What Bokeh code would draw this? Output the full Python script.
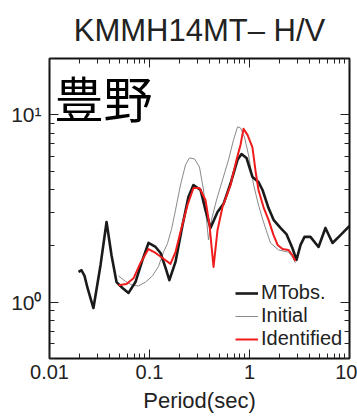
from bokeh.plotting import figure
from bokeh.models import (LogAxis, FixedTicker, Legend, LegendItem, Label, Range1d,
                          CustomJSTickFormatter)
from bokeh.embed import file_html
from bokeh.resources import INLINE

# ---- data ----
obs_period = [0.0195, 0.0209, 0.0224, 0.0240, 0.0257, 0.0275, 0.0324, 0.0372, 0.0417, 0.0468,
              0.0537, 0.0617, 0.0724, 0.0851, 0.0977, 0.115, 0.129, 0.145, 0.158, 0.182,
              0.214, 0.245, 0.275, 0.324, 0.363, 0.407, 0.479, 0.550, 0.646, 0.759,
              0.832, 0.933, 1.07, 1.23, 1.35, 1.55, 1.74, 2.04, 2.34, 2.69,
              2.95, 3.24, 3.55, 4.07, 4.90, 5.75, 6.76, 8.13, 10.0]
obs_hv = [1.45, 1.48, 1.38, 1.19, 1.05, 0.93, 1.58, 2.68, 1.78, 1.28,
          1.19, 1.12, 1.28, 1.68, 2.07, 1.97, 1.83, 1.52, 1.31, 1.64,
          2.58, 3.64, 4.22, 3.97, 3.10, 2.49, 3.03, 3.35, 4.30, 5.75,
          6.18, 5.89, 4.66, 4.38, 3.97, 3.18, 2.75, 2.49, 2.31, 1.94,
          1.68, 2.02, 2.23, 2.23, 1.97, 2.49, 2.07, 2.28, 2.55]

init_period = [0.0490, 0.0575, 0.0676, 0.0776, 0.0912, 0.107, 0.123, 0.138, 0.151, 0.166,
               0.182, 0.204, 0.229, 0.251, 0.282, 0.316, 0.347, 0.372, 0.389, 0.417,
               0.468, 0.537, 0.617, 0.692, 0.759, 0.813, 0.891, 0.977, 1.10, 1.23,
               1.38, 1.62, 1.95, 2.45, 2.69, 2.88]
init_hv = [1.38, 1.29, 1.23, 1.22, 1.28, 1.38, 1.55, 1.85, 2.05, 2.45,
           3.10, 4.22, 5.40, 5.89, 5.82, 5.27, 3.97, 2.75, 2.15, 2.75,
           3.51, 4.49, 5.75, 7.35, 8.63, 8.52, 7.62, 6.11, 4.22, 3.30,
           2.68, 2.07, 1.90, 1.85, 1.74, 1.62]

ident_period = [0.0490, 0.0589, 0.0692, 0.0813, 0.0977, 0.115, 0.135, 0.162, 0.182, 0.204,
                0.240, 0.275, 0.316, 0.363, 0.398, 0.437, 0.479, 0.537, 0.646, 0.741,
                0.813, 0.871, 0.955, 1.07, 1.15, 1.23, 1.38, 1.55, 1.74, 1.91,
                2.14, 2.45, 2.69, 2.88]
ident_hv = [1.23, 1.25, 1.34, 1.62, 1.92, 1.83, 1.72, 1.60, 1.85, 2.37,
            3.30, 4.07, 4.07, 3.51, 2.58, 1.54, 2.43, 3.22, 4.22, 5.75,
            6.91, 8.42, 7.82, 6.70, 5.00, 3.97, 3.22, 2.75, 2.28, 2.02,
            1.92, 1.90, 1.78, 1.66]

x_ticks = [0.01, 0.1, 1, 10]
x_tick_labels = ["0.01", "0.1", "1", "10"]
y_ticks = [1, 10]
y_tick_labels = ["10\u2070", "10\u00b9"]

title_text = "KMMH14MT\u2013 H/V"
site_text = "豊野"
x_label = "Period(sec)"

FONT = "Liberation Sans"

p = figure(width=357, height=417, x_axis_type="log", y_axis_type="log",
           x_range=Range1d(0.01, 10), y_range=Range1d(0.5, 20),
           output_backend="svg", toolbar_location=None,
           min_border_left=49, min_border_right=8, min_border_top=58, min_border_bottom=59)
p.background_fill_color = "white"
p.border_fill_color = "white"
p.grid.visible = False
p.outline_line_color = "#111111"
p.outline_line_width = 2
p.outline_line_alpha = 1

p.title.text = title_text
p.title.align = "center"
p.title.text_font = FONT
p.title.text_font_size = "31px"
p.title.text_font_style = "normal"
p.title.text_color = "#222222"
p.title.standoff = 21

x_minor = [k * 10.0 ** e for e in range(-2, 1) for k in range(2, 10)]
y_minor = [k * 10.0 ** e for e in range(-1, 2) for k in range(2, 10)]


def fmt(tvals, tlabels):
    return CustomJSTickFormatter(args=dict(tvals=tvals, tlabels=tlabels), code="""
        for (let i = 0; i < tvals.length; i++) {
            if (Math.abs(Math.log10(tvals[i]) - Math.log10(tick)) < 1e-6) return tlabels[i];
        }
        return "";
    """)


blank = CustomJSTickFormatter(code="return '';")


def style(ax, ticks, minor, formatter, show):
    ax.ticker = FixedTicker(ticks=ticks, minor_ticks=minor)
    ax.formatter = formatter
    ax.axis_line_color = None
    ax.major_tick_in = 9
    ax.major_tick_out = 0
    ax.minor_tick_in = 5
    ax.minor_tick_out = 0
    ax.major_tick_line_color = "#222222"
    ax.minor_tick_line_color = "#222222"
    ax.major_tick_line_width = 1
    ax.minor_tick_line_width = 1
    if show:
        ax.major_label_text_font = FONT
        ax.major_label_text_font_size = "20px"
        ax.major_label_text_color = "#222222"
    else:
        ax.major_label_text_font_size = "1px"
        ax.major_label_standoff = 0


style(p.xaxis[0], x_ticks, x_minor, fmt(x_ticks, x_tick_labels), True)
p.xaxis[0].major_label_standoff = 6
p.xaxis[0].axis_label = x_label
p.xaxis[0].axis_label_text_font = FONT
p.xaxis[0].axis_label_text_font_size = "22px"
p.xaxis[0].axis_label_text_font_style = "normal"
p.xaxis[0].axis_label_text_color = "#222222"
p.xaxis[0].axis_label_standoff = 6

style(p.yaxis[0], y_ticks, y_minor, fmt(y_ticks, y_tick_labels), True)
p.yaxis[0].major_label_standoff = 8
p.yaxis[0].major_label_text_font_size = "21px"

top_ax = LogAxis()
style(top_ax, x_ticks, x_minor, blank, False)
p.add_layout(top_ax, "above")
right_ax = LogAxis()
style(right_ax, y_ticks, y_minor, blank, False)
p.add_layout(right_ax, "right")

r_init = p.line(init_period, init_hv, line_color="#8a8a8a", line_width=1, line_join="round")
r_obs = p.line(obs_period, obs_hv, line_color="#1a1a1a", line_width=2.6, line_join="round")
r_ident = p.line(ident_period, ident_hv, line_color="#f01c1c", line_width=2, line_join="round")

legend = Legend(items=[LegendItem(label="MTobs.", renderers=[r_obs]),
                       LegendItem(label="Initial", renderers=[r_init]),
                       LegendItem(label="Identified", renderers=[r_ident])],
                location=(186, 8), padding=0, spacing=0, glyph_width=23, glyph_height=20,
                label_height=20, label_standoff=3,
                label_text_font=FONT, label_text_font_size="20px", label_text_color="#222222",
                border_line_alpha=0, background_fill_alpha=0)
p.add_layout(legend)

site = Label(x=5, y=298, x_units="screen", y_units="screen", text=site_text,
             text_font="Noto Sans CJK JP", text_font_size="49px", text_font_style="normal",
             text_color="black", text_baseline="top", text_align="left")
p.add_layout(site)

open("out.html", "w").write(file_html(p, INLINE))
